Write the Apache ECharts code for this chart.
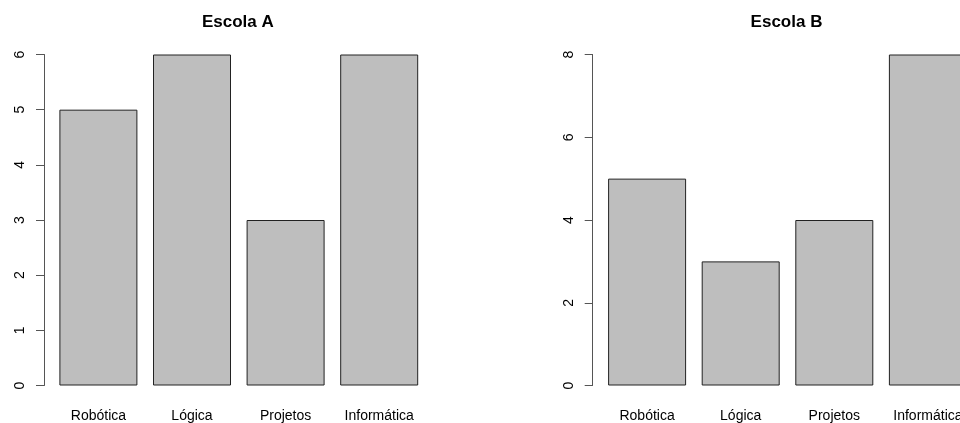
<!DOCTYPE html>
<html>
<head>
<meta charset="utf-8">
<script src="https://cdn.jsdelivr.net/npm/echarts@6/dist/echarts.min.js"></script>
<style>
  html, body { margin: 0; padding: 0; background: #fff; overflow: hidden; width: 960px; height: 423px; }
  #chart { width: 1000px; height: 423px; }
</style>
</head>
<body>
<div id="chart"></div>
<script>
// Courses offered at each school
const categories = ['Robótica', 'Lógica', 'Projetos', 'Informática'];
const escolaA = [5, 6, 3, 6];
const escolaB = [5, 3, 4, 8];
const titles = ['Escola A', 'Escola B'];
const yMaxA = 6, yStepA = 1;
const yMaxB = 8, yStepB = 2;

const FONT = '"Liberation Sans", Arial, sans-serif';
const panelShift = 548.7;     // horizontal distance between the two panels
const gridLeft = 51.6;        // left edge of first category band
const gridWidth = 374.4;      // four bands of 93.6 px
const gridTop = 54.5;
const gridBottom = 36.5;
const axisX = 44;             // where the y axis line sits

function grid(i) {
  return { left: gridLeft + i * panelShift, width: gridWidth, top: gridTop, bottom: gridBottom, containLabel: false };
}

function xAxis(i) {
  return {
    type: 'category', gridIndex: i, data: categories,
    axisLine: { show: false }, axisTick: { show: false },
    axisLabel: { color: '#000', fontFamily: FONT, fontSize: 14, margin: 23.5, interval: 0 }
  };
}

function yAxis(i, max, step) {
  return {
    type: 'value', gridIndex: i, min: 0, max: max, interval: step,
    offset: gridLeft - axisX,
    splitLine: { show: false },
    axisLine: { show: true, lineStyle: { color: '#555', width: 1 } },
    axisTick: { show: true, length: 8, lineStyle: { color: '#555', width: 1 } },
    axisLabel: { color: '#000', fontFamily: FONT, fontSize: 14, rotate: 90, margin: 17 }
  };
}

function bars(i, values) {
  return {
    type: 'bar', xAxisIndex: i, yAxisIndex: i, data: values, barWidth: 78,
    itemStyle: { color: '#BEBEBE', borderColor: '#222', borderWidth: 1 },
    silent: true, animation: false
  };
}

const chart = echarts.init(document.getElementById('chart'), null, { renderer: 'canvas' });
chart.setOption({
  animation: false,
  backgroundColor: '#fff',
  title: titles.map((t, i) => ({
    text: t,
    left: gridLeft + i * panelShift + gridWidth / 2 - 6,
    top: 9,
    textAlign: 'center',
    textStyle: { fontFamily: FONT, fontSize: 17, fontWeight: 'bold', color: '#000' }
  })),
  grid: [grid(0), grid(1)],
  xAxis: [xAxis(0), xAxis(1)],
  yAxis: [yAxis(0, yMaxA, yStepA), yAxis(1, yMaxB, yStepB)],
  series: [bars(0, escolaA), bars(1, escolaB)]
});
</script>
</body>
</html>
